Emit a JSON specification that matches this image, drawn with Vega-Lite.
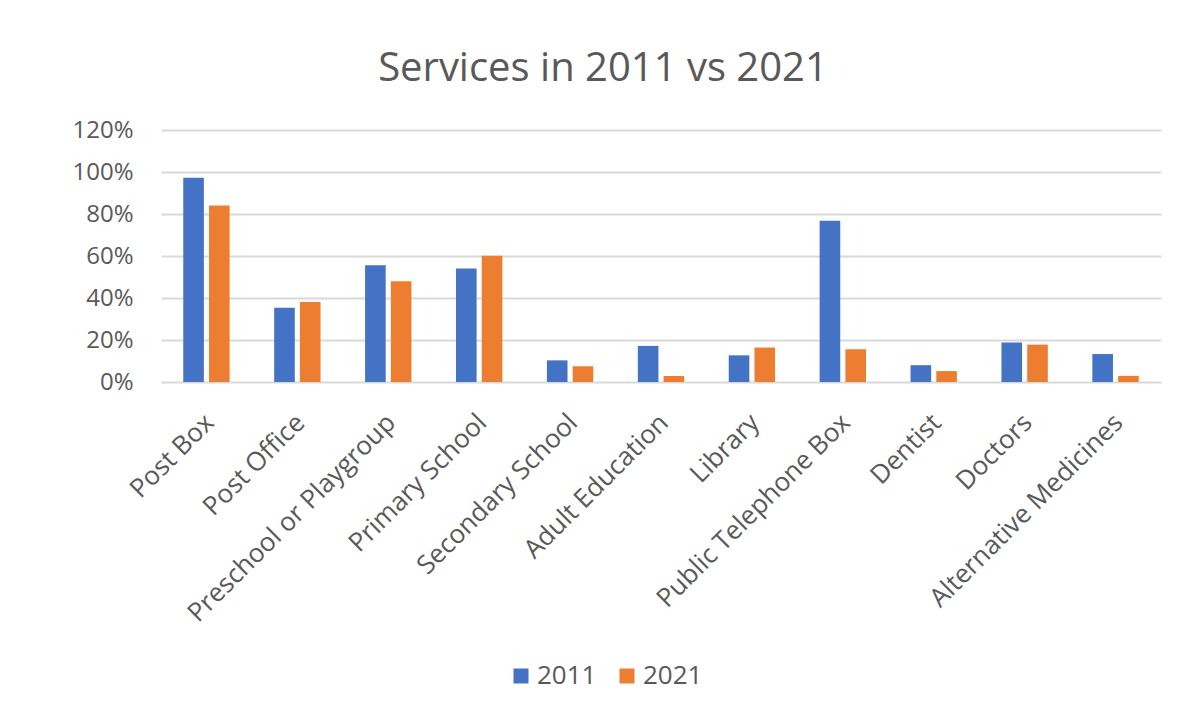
{
  "$schema": "https://vega.github.io/schema/vega-lite/v6.json",
  "width": 1000,
  "height": 252,
  "autosize": {"type": "none"},
  "padding": {"left": 161, "top": 130, "right": 31, "bottom": 333},
  "background": "white",
  "title": {
    "text": "Services in 2011 vs 2021",
    "font": "Open Sans",
    "fontSize": 40,
    "fontWeight": "normal",
    "color": "#595959",
    "anchor": "middle",
    "dx": -58,
    "offset": 29
  },
  "data": {
    "values": [
      {"service": "Post Box", "year": "2011", "value": 0.973},
      {"service": "Post Box", "year": "2021", "value": 0.841},
      {"service": "Post Office", "year": "2011", "value": 0.353},
      {"service": "Post Office", "year": "2021", "value": 0.381},
      {"service": "Preschool or Playgroup", "year": "2011", "value": 0.556},
      {"service": "Preschool or Playgroup", "year": "2021", "value": 0.48},
      {"service": "Primary School", "year": "2011", "value": 0.541},
      {"service": "Primary School", "year": "2021", "value": 0.601},
      {"service": "Secondary School", "year": "2011", "value": 0.103},
      {"service": "Secondary School", "year": "2021", "value": 0.075},
      {"service": "Adult Education", "year": "2011", "value": 0.172},
      {"service": "Adult Education", "year": "2021", "value": 0.029},
      {"service": "Library", "year": "2011", "value": 0.127},
      {"service": "Library", "year": "2021", "value": 0.164},
      {"service": "Public Telephone Box", "year": "2011", "value": 0.768},
      {"service": "Public Telephone Box", "year": "2021", "value": 0.156},
      {"service": "Dentist", "year": "2011", "value": 0.08},
      {"service": "Dentist", "year": "2021", "value": 0.052},
      {"service": "Doctors", "year": "2011", "value": 0.188},
      {"service": "Doctors", "year": "2021", "value": 0.178},
      {"service": "Alternative Medicines", "year": "2011", "value": 0.133},
      {"service": "Alternative Medicines", "year": "2021", "value": 0.029}
    ]
  },
  "mark": {"type": "bar"},
  "encoding": {
    "x": {
      "field": "service",
      "type": "nominal",
      "sort": null,
      "scale": {"paddingInner": 0.49, "paddingOuter": 0.245},
      "axis": {
        "title": null,
        "labelAngle": -45,
        "labelFont": "Open Sans",
        "labelFontSize": 26,
        "labelColor": "#595959",
        "labelPadding": 27,
        "labelOffset": -6,
        "labelLimit": 0,
        "ticks": false,
        "domain": false,
        "grid": false
      }
    },
    "xOffset": {
      "field": "year",
      "type": "nominal",
      "scale": {"paddingInner": 0.2, "paddingOuter": 0}
    },
    "y": {
      "field": "value",
      "type": "quantitative",
      "scale": {"domain": [0, 1.2], "nice": false},
      "axis": {
        "title": null,
        "values": [0, 0.2, 0.4, 0.6, 0.8, 1.0, 1.2],
        "format": ".0%",
        "labelFont": "Open Sans",
        "labelFontSize": 24,
        "labelColor": "#595959",
        "labelPadding": 28,
        "ticks": false,
        "domain": false,
        "gridColor": "#d9d9d9",
        "gridWidth": 2
      }
    },
    "color": {
      "field": "year",
      "type": "nominal",
      "scale": {"domain": ["2011", "2021"], "range": ["#4472c4", "#ed7d31"]},
      "legend": {
        "title": null,
        "orient": "none",
        "direction": "horizontal",
        "legendX": 347,
        "legendY": 533,
        "symbolType": "square",
        "symbolSize": 225,
        "symbolStrokeWidth": 0,
        "labelFont": "Open Sans",
        "labelFontSize": 26,
        "labelColor": "#595959",
        "labelOffset": 3,
        "columnPadding": 17,
        "padding": 0
      }
    }
  },
  "config": {
    "view": {"stroke": null}
  }
}
